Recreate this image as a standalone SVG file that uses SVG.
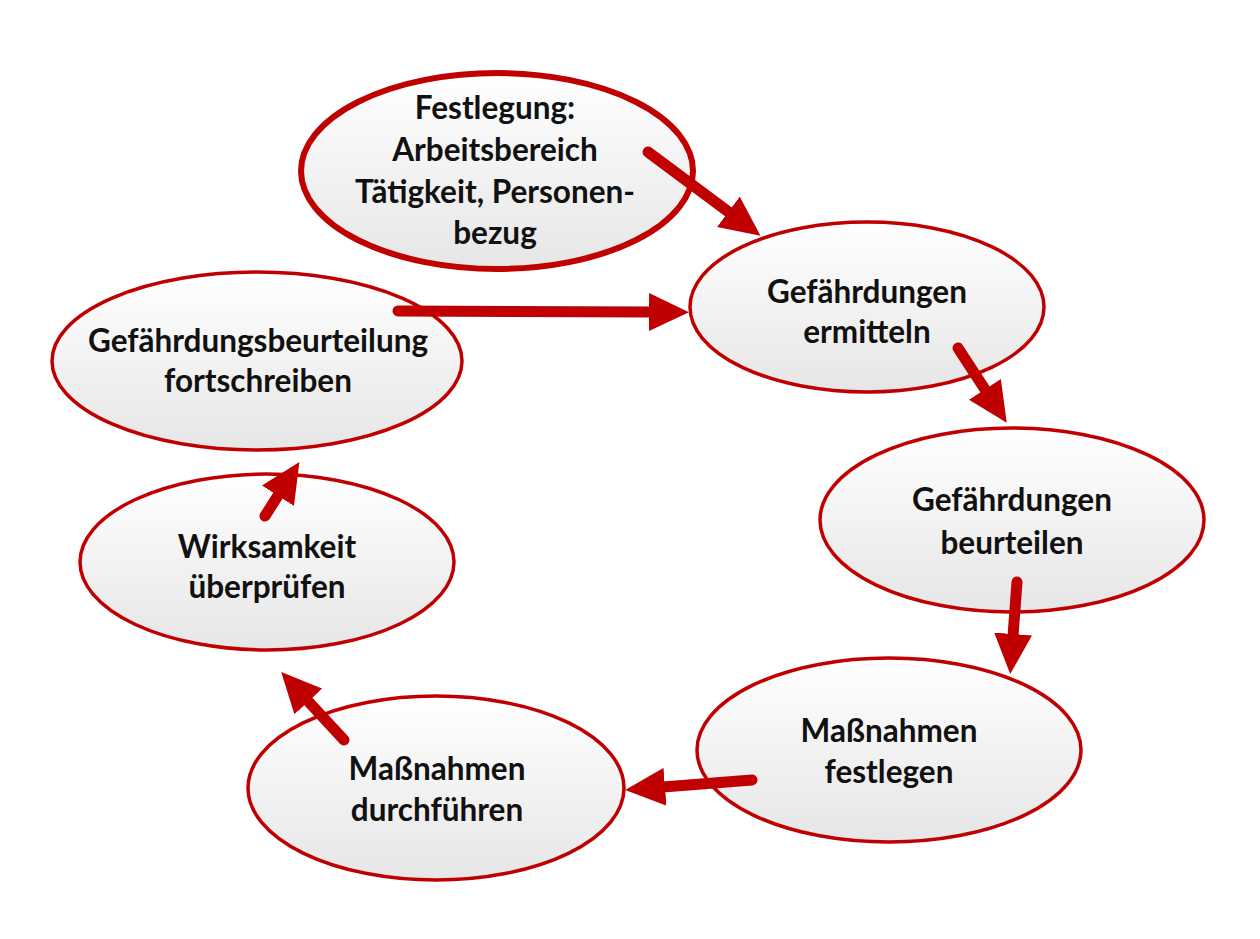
<svg xmlns="http://www.w3.org/2000/svg" width="1260" height="939" viewBox="0 0 1260 939">
<style>
.node ellipse{fill:url(#g);stroke:#c00000;stroke-width:3.5}
.node.first ellipse{stroke-width:6}
.node text{font-family:Lato,"Open Sans","Liberation Sans",sans-serif;font-weight:bold;font-size:31.5px;fill:#111;text-anchor:middle}
.conn line{stroke:#c00000;stroke-width:11;stroke-linecap:round}
</style>
<defs>
<linearGradient id="g" x1="0" y1="0" x2="0" y2="1">
<stop offset="0" stop-color="#ffffff"/>
<stop offset="1" stop-color="#e6e6e6"/>
</linearGradient>
<marker id="ah" markerUnits="userSpaceOnUse" viewBox="0 0 40 38" markerWidth="40" markerHeight="38" refX="2" refY="19" orient="auto">
<path d="M0,0 L40,19 L0,38 z" fill="#c00000"/>
</marker>
</defs>
<rect width="1260" height="939" fill="#ffffff"/>
<g id="n1" class="node first"><ellipse cx="497" cy="171" rx="196" ry="98"/>
<text x="495" y="119">Festlegung:</text><text x="495" y="161">Arbeitsbereich</text><text x="495" y="203">Tätigkeit, Personen-</text><text x="495" y="244">bezug</text></g>
<g id="n2" class="node"><ellipse cx="867" cy="307" rx="177" ry="85"/>
<text x="867" y="303">Gefährdungen</text><text x="867" y="343">ermitteln</text></g>
<g id="n3" class="node"><ellipse cx="1012" cy="520" rx="192" ry="92"/>
<text x="1012" y="511">Gefährdungen</text><text x="1012" y="554">beurteilen</text></g>
<g id="n4" class="node"><ellipse cx="889" cy="750" rx="192" ry="92"/>
<text x="889" y="742">Maßnahmen</text><text x="889" y="783">festlegen</text></g>
<g id="n5" class="node"><ellipse cx="436" cy="788" rx="188" ry="92"/>
<text x="437" y="780">Maßnahmen</text><text x="437" y="821">durchführen</text></g>
<g id="n6" class="node"><ellipse cx="267" cy="562" rx="187" ry="88"/>
<text x="267" y="558">Wirksamkeit</text><text x="267" y="598">überprüfen</text></g>
<g id="n7" class="node"><ellipse cx="257" cy="361" rx="205" ry="89"/>
<text x="258" y="352">Gefährdungsbeurteilung</text><text x="258" y="392">fortschreiben</text></g>
<g id="connectors" class="conn">
<line x1="648" y1="152" x2="730" y2="213" marker-end="url(#ah)"/>
<line x1="398" y1="311" x2="651" y2="312" marker-end="url(#ah)"/>
<line x1="958" y1="348" x2="986" y2="391" marker-end="url(#ah)"/>
<line x1="1017" y1="582" x2="1013" y2="636" marker-end="url(#ah)"/>
<line x1="752" y1="780" x2="663" y2="787" marker-end="url(#ah)"/>
<line x1="344" y1="740" x2="307" y2="700" marker-end="url(#ah)"/>
<line x1="265" y1="516" x2="279" y2="494" marker-end="url(#ah)"/>
</g>
</svg>
